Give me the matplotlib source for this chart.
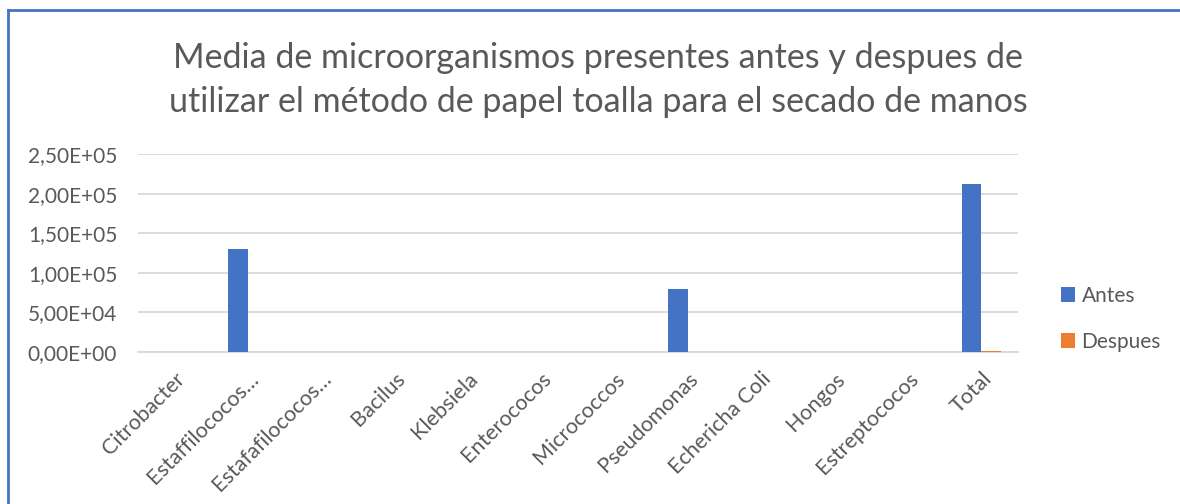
import matplotlib
matplotlib.use("Agg")
import matplotlib.pyplot as plt
import numpy as np
from matplotlib.lines import Line2D
from matplotlib.ticker import FuncFormatter

categories = ["Citrobacter", "Estaffilococos…", "Estafafilococos…", "Bacilus", "Klebsiela",
              "Enterococos", "Micrococcos", "Pseudomonas", "Echericha Coli", "Hongos",
              "Estreptococos", "Total"]
antes = [0, 130000, 0, 0, 0, 0, 0, 80000, 0, 0, 0, 212000]
despues = [0, 0, 0, 0, 0, 0, 0, 0, 0, 0, 0, 1500]
series_names = ["Antes", "Despues"]
yticks = [0, 50000, 100000, 150000, 200000, 250000]

BLUE = "#4472C4"
ORANGE = "#ED7D31"
TXT = "#595959"
GRID = "#D9D9D9"

plt.rcParams['font.family'] = ['Lato', 'DejaVu Sans']

W, H = 1180, 504
fig = plt.figure(figsize=(W/100, H/100), dpi=100)
ax = fig.add_axes([138/W, 1-352/H, (1018-138)/W, (352-154)/H])

x = np.arange(len(categories))
bw = 0.27
ax.bar(x - bw/2, antes, bw, color=BLUE, label=series_names[0], zorder=3)
ax.bar(x + bw/2, despues, bw, color=ORANGE, label=series_names[1], zorder=3)

ax.set_xlim(-0.5, len(categories) - 0.5)
ax.set_ylim(0, 250000)
ax.set_yticks(yticks)
ax.yaxis.set_major_formatter(FuncFormatter(lambda v, p: ("%.2E" % v).replace(".", ",")))
ax.grid(axis='y', color=GRID, linewidth=1.3, zorder=0)
for s in ["top", "right", "left"]:
    ax.spines[s].set_visible(False)
ax.spines["bottom"].set_color(GRID)
ax.spines["bottom"].set_linewidth(1.3)
ax.tick_params(axis='both', length=0, colors=TXT, labelsize=15)
ax.tick_params(axis='y', pad=15)
ax.set_xticks(x)
ax.set_xticklabels(categories, rotation=45, ha='right', rotation_mode='anchor', fontsize=15.5)
ax.tick_params(axis='x', pad=12)

fig.text(0.5 + 8/W, 1-80/H, "Media de microorganismos presentes antes y despues de\nutilizar el método de papel toalla para el secado de manos",
         ha='center', va='center', fontsize=24.5, color=TXT, linespacing=1.48)

leg = fig.legend(loc='upper left', bbox_to_anchor=(1042/W, 1-267/H), frameon=False,
                 fontsize=15, labelcolor=TXT, handlelength=0.7, handleheight=0.7,
                 handletextpad=0.3, labelspacing=1.25)

fig.add_artist(Line2D([8/W, 8/W], [0, 1-10/H], transform=fig.transFigure, color=BLUE, linewidth=2))
fig.add_artist(Line2D([8/W, 1], [1-10/H, 1-10/H], transform=fig.transFigure, color=BLUE, linewidth=2))

fig.savefig("out.png", dpi=100, facecolor="white")
